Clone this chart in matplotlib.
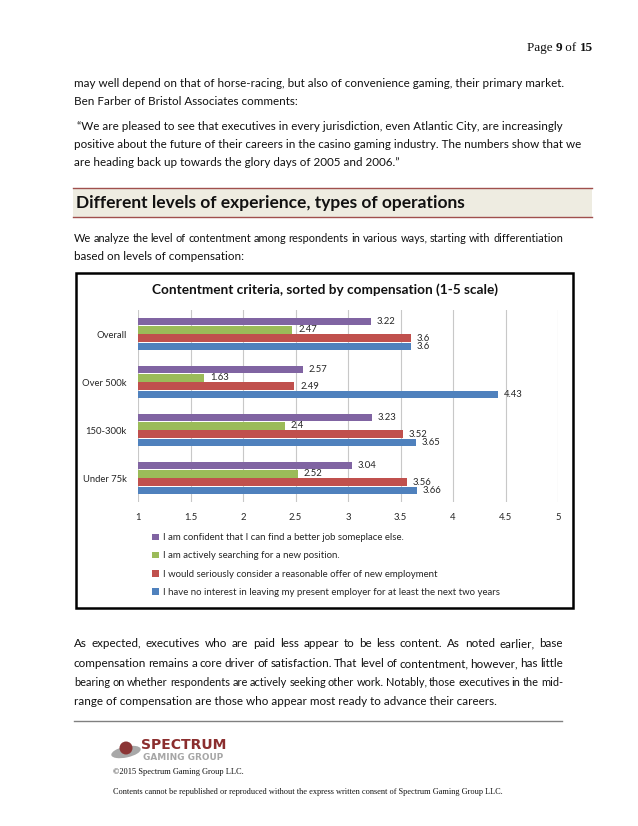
import matplotlib.pyplot as plt
from matplotlib.patches import Rectangle, Ellipse, Circle
import numpy as np

W, H = 638, 826

# chart data
categories = ['Under 75k', '150-300k', 'Over 500k', 'Overall']
no_interest = [3.66, 3.65, 4.43, 3.6]
consider_offer = [3.56, 3.52, 2.49, 3.6]
searching = [2.52, 2.4, 1.63, 2.47]
confident = [3.04, 3.23, 2.57, 3.22]
series = [no_interest, consider_offer, searching, confident]
series_names = [
    'I have no interest in leaving my present employer for at least the next two years',
    'I would seriously consider a reasonable offer of new employment',
    'I am actively searching for a new position.',
    'I am confident that I can find a better job someplace else.',
]
series_colors = ['#4F81BD', '#C0504D', '#9BBB59', '#8064A2']
xticks = [1, 1.5, 2, 2.5, 3, 3.5, 4, 4.5, 5]
xticklabels = ['1', '1.5', '2', '2.5', '3', '3.5', '4', '4.5', '5']
chart_title = 'Contentment criteria, sorted by compensation (1-5 scale)'

# page text
para1 = ['may well depend on that of horse-racing, but also of convenience gaming, their primary market.',
         'Ben Farber of Bristol Associates comments:']
quote = [' \u201cWe are pleased to see that executives in every jurisdiction, even Atlantic City, are increasingly',
         'positive about the future of their careers in the casino gaming industry. The numbers show that we',
         'are heading back up towards the glory days of 2005 and 2006.\u201d']
heading = 'Different levels of experience, types of operations'
intro = ['We analyze the level of contentment among respondents in various ways, starting with differentiation',
         'based on levels of compensation:']
closing = ['As expected, executives who are paid less appear to be less content. As noted earlier, base',
           'compensation remains a core driver of satisfaction. That level of contentment, however, has little',
           'bearing on whether respondents are actively seeking other work. Notably, those executives in the mid-',
           'range of compensation are those who appear most ready to advance their careers.']
copyright_line = '\u00a92015 Spectrum Gaming Group LLC.'
notice = 'Contents cannot be republished or reproduced without the express written consent of Spectrum Gaming Group LLC.'

fig = plt.figure(figsize=(W / 100, H / 100), dpi=100, facecolor='white')
page = fig.add_axes([0, 0, 1, 1])
page.set_xlim(0, W)
page.set_ylim(H, 0)
page.axis('off')
r = fig.canvas.get_renderer()


def width_of(s, **kw):
    t = page.text(0, 0, s, **kw)
    w = t.get_window_extent(renderer=r).width
    t.remove()
    return w


def fit_size(s, target, **kw):
    return 10 * target / width_of(s, fontsize=10, **kw)


def justify(x0, x1, y, s, **kw):
    kw = dict(kw)
    words = s.split(' ')
    ws = [width_of(w, **kw) for w in words]
    sp = width_of('a a', **kw) - width_of('aa', **kw)
    target = x1 - x0
    need = sum(ws) + (len(words) - 1) * sp * 0.85
    if need > target:
        k = target / need
        kw['fontsize'] *= k
        ws = [w * k for w in ws]
    gap = (target - sum(ws)) / (len(words) - 1)
    x = x0
    for w, wd in zip(words, ws):
        page.text(x, y, w, va='baseline', **kw)
        x += wd + gap


body = dict(family='Lato', color='#111111')
bsize = fit_size(para1[0], 489, **body)
body['fontsize'] = bsize

# page number
serif = dict(family='Liberation Serif', color='#111111')
parts = [('Page ', 'normal'), ('9', 'bold'), (' of ', 'normal'), ('15', 'bold')]
psize = 10 * 66 / sum(width_of(s, fontsize=10, fontweight=fw, **serif) for s, fw in parts)
x = 593 - sum(width_of(s, fontsize=psize, fontweight=fw, **serif) for s, fw in parts)
for s, fw in parts:
    page.text(x, 51, s, fontsize=psize, fontweight=fw, va='baseline', **serif)
    x += width_of(s, fontsize=psize, fontweight=fw, **serif)

for s, y in zip(para1, [87, 105]):
    page.text(74, y, s, va='baseline', **body)
for s, y in zip(quote, [130, 148, 166]):
    page.text(74, y, s, va='baseline', **body)

# heading band
page.add_patch(Rectangle((73, 188), 519, 29, fc='#EEECE1', ec='none'))
page.plot([73, 592], [188, 188], color='#A0504D', lw=1)
page.plot([73, 592], [217, 217], color='#A0504D', lw=1)
hsize = fit_size(heading, 389, family='Lato', fontweight='bold')
page.text(76, 208, heading, fontsize=hsize, fontweight='bold', family='Lato', color='#111111', va='baseline')

justify(74, 563, 242, intro[0], **body)
page.text(74, 260, intro[1], va='baseline', **body)

# chart frame and title
page.add_patch(Rectangle((76, 273), 497, 335, fill=False, ec='black', lw=1.8))
tsize = fit_size(chart_title, 346, family='Lato', fontweight='bold')
page.text(325, 290, chart_title, ha='center', va='center', fontsize=tsize,
          fontweight='bold', family='Lato', color='#111111')

ax = fig.add_axes([138 / W, 1 - 502 / H, 420 / W, 192 / H])
ax.patch.set_alpha(0)
ax.set_xlim(1, 5)
ax.set_ylim(-0.5, 3.5)
pitch, bh = 0.173, 0.158
ypos = np.arange(len(categories))
handles = []
for i, (vals, name, col) in enumerate(zip(series, series_names, series_colors)):
    yy = ypos + (i - 1.5) * pitch
    b = ax.barh(yy, vals, height=bh, color=col, label=name, zorder=3)
    handles.append(b)
    for y, v in zip(yy, vals):
        ax.text(v + 0.055, y, f'{v:g}', va='center', fontsize=6.8, family='Lato', color='#262626', zorder=4)

ax.set_xticks(xticks, xticklabels)
ax.set_yticks(ypos, categories)
ax.xaxis.grid(True, color='#C8C8C8', lw=0.8, zorder=0)
ax.set_axisbelow(True)
for sp in ax.spines.values():
    sp.set_visible(False)
ax.tick_params(length=0, labelsize=6.8, labelcolor='#262626')
ax.tick_params(axis='x', pad=8)
ax.tick_params(axis='y', pad=8)
for lab in ax.get_xticklabels() + ax.get_yticklabels():
    lab.set_family('Lato')

ax.legend(handles[::-1], series_names[::-1], loc='upper left', bbox_to_anchor=(0.033, -0.163),
          frameon=False, prop={'family': 'Lato', 'size': 6.9}, handlelength=0.7, handleheight=0.7,
          handletextpad=0.5, labelspacing=0.95, borderaxespad=0, borderpad=0, labelcolor='#262626')

for i, (s, y) in enumerate(zip(closing, [647, 667, 686, 705])):
    if i < 3:
        justify(74, 563, y, s, **body)
    else:
        page.text(74, y, s, va='baseline', **body)

# footer
page.plot([74, 562], [721, 721], color='#808080', lw=1)
page.add_patch(Ellipse((126, 752), 30, 11, angle=-12, fc='#A8A8A8', ec='none'))
page.add_patch(Circle((126, 748), 6.5, fc='#8B3535', ec='none'))
lsize = fit_size('SPECTRUM', 85, family='DejaVu Sans', fontweight='bold')
page.text(141, 745, 'SPECTRUM', fontsize=lsize, fontweight='bold', family='DejaVu Sans',
          color='#8B2E2E', va='center')
gsize = fit_size('GAMING GROUP', 80, family='DejaVu Sans', fontweight='bold')
page.text(143, 757, 'GAMING GROUP', fontsize=gsize, fontweight='bold', family='DejaVu Sans',
          color='#A6A6A6', va='center')
csize = fit_size(copyright_line, 129, **serif)
page.text(113, 774, copyright_line, fontsize=csize, va='baseline', **serif)
nsize = fit_size(notice, 387, **serif)
page.text(113, 794, notice, fontsize=nsize, va='baseline', **serif)

fig.savefig('out.png', dpi=100, facecolor='white')
